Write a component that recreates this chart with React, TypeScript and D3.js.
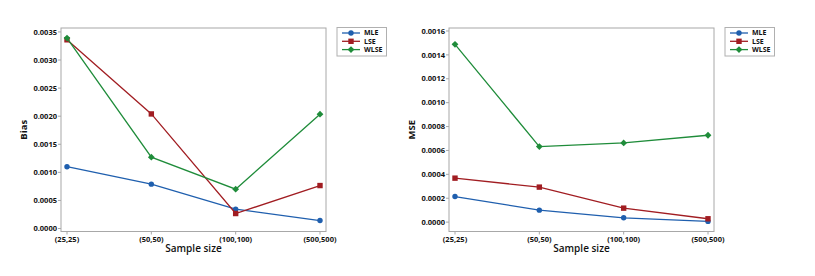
import React from "react";
import * as d3 from "d3";

const categories = ["(25,25)", "(50,50)", "(100,100)", "(500,500)"];
const seriesNames = ["MLE", "LSE", "WLSE"];
const biasMLE = [0.0011, 0.00079, 0.000345, 0.000142];
const biasLSE = [0.00336, 0.00204, 0.000267, 0.000765];
const biasWLSE = [0.00339, 0.00127, 0.0007, 0.002035];
const mseMLE = [0.000214, 0.0001, 0.000036, 0.000006];
const mseLSE = [0.000368, 0.000293, 0.000117, 0.000028];
const mseWLSE = [0.001488, 0.000632, 0.000663, 0.000727];
const biasTicks = [0, 0.0005, 0.001, 0.0015, 0.002, 0.0025, 0.003, 0.0035];
const mseTicks = [0, 0.0002, 0.0004, 0.0006, 0.0008, 0.001, 0.0012, 0.0014, 0.0016];

const colors = ["#1f5fae", "#a11d22", "#1f8c3a"];
const FONT = "'Open Sans', 'DejaVu Sans', sans-serif";

function Marker({ i, x, y }: { i: number; x: number; y: number }) {
  const c = colors[i];
  if (i === 0) return <circle cx={x} cy={y} r={2.7} fill={c} />;
  if (i === 1) return <rect x={x - 2.7} y={y - 2.7} width={5.4} height={5.4} fill={c} />;
  return <path d={`M${x},${y - 3.4}L${x + 3.4},${y}L${x},${y + 3.4}L${x - 3.4},${y}Z`} fill={c} />;
}

function Panel({
  ox, yLabel, series, ticks, domain, catRange,
}: {
  ox: number; yLabel: string; series: number[][]; ticks: number[];
  domain: [number, number]; catRange: [number, number];
}) {
  const left = ox;
  const right = ox + catRange[1] + 6;
  const top = 28;
  const bottom = 231.5;
  const x = d3.scalePoint<string>().domain(categories).range([ox + catRange[0], ox + catRange[1]]);
  const y = d3.scaleLinear().domain(domain).range([bottom, top]);
  const line = d3.line<number>().x((_, j) => x(categories[j])!).y((d) => y(d));
  const legX = right + 11;
  return (
    <g>
      <rect x={left} y={top} width={right - left} height={bottom - top} fill="white" stroke="#a8a8a8" strokeWidth={1} />
      {ticks.map((t) => (
        <g key={t}>
          <line x1={left - 3} x2={left} y1={y(t)} y2={y(t)} stroke="#a8a8a8" />
          <text x={left - 4} y={y(t)} dy="0.35em" textAnchor="end" fontSize={7.5} fontWeight="bold" fontFamily={FONT} fill="#111">
            {t.toFixed(4)}
          </text>
        </g>
      ))}
      {categories.map((c) => (
        <g key={c}>
          <line x1={x(c)!} x2={x(c)!} y1={bottom} y2={bottom + 3} stroke="#a8a8a8" />
          <text x={x(c)!} y={bottom + 10} textAnchor="middle" fontSize={7.5} fontWeight="bold" fontFamily={FONT} fill="#111">
            {c}
          </text>
        </g>
      ))}
      <text x={(left + right) / 2} y={252} textAnchor="middle" fontSize={10} fontWeight={600} fontFamily={FONT} fill="#111">
        Sample size
      </text>
      <text transform={`translate(${left - 34},${(top + bottom) / 2}) rotate(-90)`} textAnchor="middle" fontSize={9.5} fontWeight="bold" fontFamily={FONT} fill="#111">
        {yLabel}
      </text>
      {series.map((s, i) => (
        <g key={i}>
          <path d={line(s)!} fill="none" stroke={colors[i]} strokeWidth={1.3} />
          {s.map((v, j) => (
            <Marker key={j} i={i} x={x(categories[j])!} y={y(v)} />
          ))}
        </g>
      ))}
      <rect x={legX} y={27.5} width={49.5} height={28.5} fill="white" stroke="#b0b0b0" />
      {seriesNames.map((n, i) => (
        <g key={n}>
          <line x1={legX + 5} x2={legX + 23} y1={33 + i * 8.3} y2={33 + i * 8.3} stroke={colors[i]} strokeWidth={1.3} />
          <Marker i={i} x={legX + 14} y={33 + i * 8.3} />
          <text x={legX + 27} y={33 + i * 8.3} dy="0.35em" fontSize={7} fontWeight="bold" fontFamily={FONT} fill="#111">
            {n}
          </text>
        </g>
      ))}
    </g>
  );
}

export default function App() {
  return (
    <svg width={815} height={276} style={{ position: "absolute", left: 0, top: 0, background: "white" }}>
      <rect width={815} height={276} fill="white" />
      <Panel ox={61} yLabel="Bias" series={[biasMLE, biasLSE, biasWLSE]} ticks={biasTicks}
        domain={[-0.000053, 0.00357]} catRange={[6, 259]} />
      <Panel ox={449} yLabel="MSE" series={[mseMLE, mseLSE, mseWLSE]} ticks={mseTicks}
        domain={[-0.0000786, 0.001625]} catRange={[6, 259]} />
    </svg>
  );
}
